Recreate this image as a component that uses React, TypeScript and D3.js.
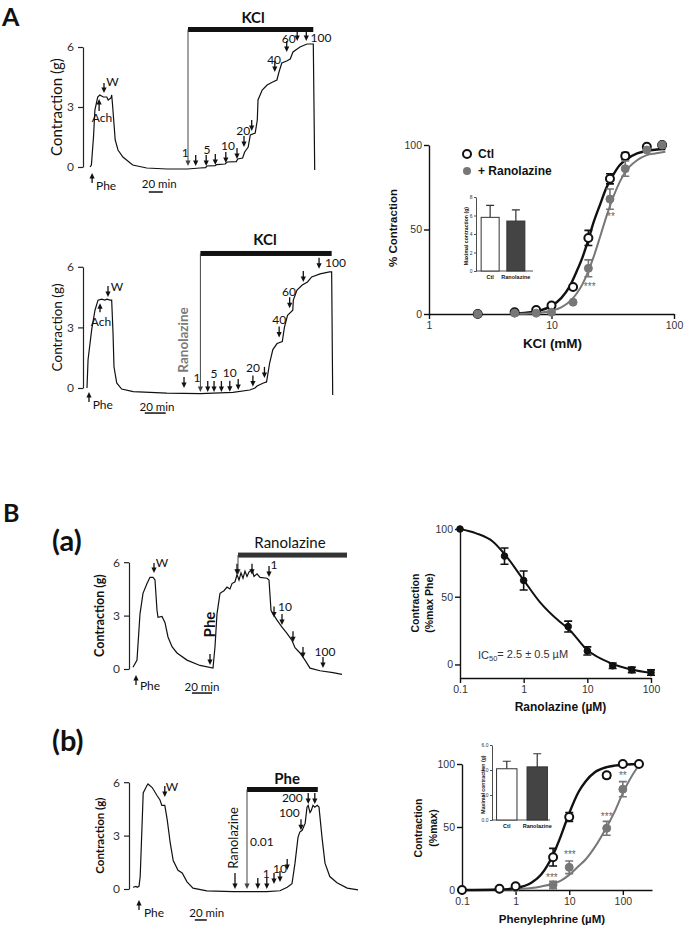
import React, { useEffect, useRef } from "react";
import * as d3 from "d3";

type P = [number, number];

// ---------------- isometric tension traces: [time (min), tension (g)] ----------------
const kclCtlTrace: P[] = [
  [0, 0], [2, 0.1], [5, 1.5], [7, 2.85], [11, 3.5], [14, 3.6], [19, 3.5], [24, 3.5], [26, 3.35], [30, 3.45],
  [31, 3.6], [32, 3.2], [36, 1.35], [40, 0.85], [47, 0.5], [61, 0.1], [81, -0.05], [110, -0.1], [139, -0.1],
  [157, -0.05], [165, -0.03], [167, 0.05], [179, 0.07], [181, 0.12], [193, 0.15], [196, 0.25], [209, 0.27],
  [211, 0.4], [218, 0.45], [221, 0.75], [226, 1.0], [229, 1.6], [236, 1.7], [239, 2.35], [240, 3.35],
  [246, 3.85], [253, 4.1], [261, 4.25], [267, 4.35], [270, 4.75], [274, 5.2], [281, 5.3], [286, 5.4],
  [290, 5.75], [300, 6.0], [310, 6.15], [319, 6.15], [321, -0.15],
];
const kclRanTrace: P[] = [
  [0, 0], [1, 1.4], [4.5, 2.9], [7.6, 3.85], [10.5, 4.35], [14, 4.4], [17, 4.35], [19, 4.4], [22, 4.35],
  [23.5, 4.35], [24.8, 2.7], [25.7, 1.05], [28.3, 0.25], [33, -0.05], [44, -0.18], [76, -0.25], [108, -0.28],
  [139, -0.22], [155, -0.1], [160, 0], [162, 0.1], [168, 0.25], [171, 0.3], [174, 1.25], [177, 1.9],
  [181, 2.2], [186, 2.3], [188, 3.0], [191, 3.6], [196, 3.85], [196.5, 4.35], [200, 4.85], [205, 5.1],
  [210, 5.25], [214, 5.5], [222, 5.65], [231, 5.75], [233, 5.75], [234, -0.35],
];
const pheRanTrace: P[] = [
  [0, 0.1], [4, 0.5], [7, 3.1], [10, 4.25], [14, 4.8], [17, 5.15], [20, 5.15], [22, 5.0], [24, 3.3],
  [25, 2.9], [29, 2.95], [32, 2.6], [35, 1.8], [39, 1.25], [44, 0.9], [54, 0.5], [67, 0.2], [80, 0.05],
  [82, 1.25], [84, 3.1], [87, 4.25], [91, 4.4], [94, 4.6], [97, 4.5], [99, 4.8], [102, 4.9], [104, 5.3],
  [106, 5.0], [108, 5.4], [110, 5.1], [112, 5.5], [114, 5.2], [116, 5.45], [119, 5.6], [121, 5.2],
  [124, 5.35], [127, 5.15], [134, 5.1], [136, 5.0], [138, 3.3], [140, 3.1], [144, 2.75], [149, 2.35],
  [154, 2.0], [159, 1.6], [162, 1.2], [167, 0.9], [172, 0.5], [177, 0.05], [187, -0.1], [200, -0.2], [209, -0.3],
];
const pheCumTrace: P[] = [
  [0, 0.1], [5, 0.15], [7, 0.1], [10, 0.15], [12, 0.7], [15, 3.5], [17, 5.4], [23, 5.8], [25, 5.9],
  [32, 5.7], [40, 5.25], [45, 5.0], [48, 4.7], [53, 4.7], [57, 3.9], [62, 2.6], [67, 1.6], [75, 1.05],
  [82, 0.9], [90, 0.4], [100, 0.05], [123, -0.1], [167, -0.15], [223, -0.15], [245, -0.1], [257, 0.1],
  [265, 0.3], [270, 1.45], [275, 2.9], [278, 3.2], [282, 3.3], [287, 3.7], [290, 4.6], [292, 4.7],
  [295, 4.3], [297, 4.4], [300, 4.7], [303, 4.6], [307, 4.7], [310, 4.6], [315, 2.9], [320, 1.45],
  [328, 0.7], [340, 0.35], [357, 0.05], [375, -0.05],
];

// drug additions: [time (min), arrow tip (g)]
const kclCtlArrows: P[] = [[151, 0.05], [166, 0.05], [179, 0.1], [194, 0.2], [210, 0.4], [220, 1.0], [231, 1.8], [264, 4.75], [281, 5.75], [296, 6.3], [309, 6.3]];
const kclRanArrows: P[] = [[115, -0.2], [121, -0.2], [128, -0.2], [136, -0.18], [144, -0.1], [158, 0.07], [169, 0.5], [183, 2.5], [193, 3.95], [206, 5.25], [221, 5.9]];
const pheRanArrows: P[] = [[104, 5.3], [119, 5.3], [136, 5.17], [141, 2.9], [149, 2.47], [160, 1.5], [170, 0.62], [190, 0.05]];
const pheCumArrows: P[] = [[208, 0], [223, 0], [235, 0.28], [245, 0.4], [257, 1.07], [280, 3.3], [292, 4.78], [303, 4.78]];

// ---------------- concentration-response data ----------------
const kclDoses = [2.5, 5, 7.5, 10, 15, 20, 30, 40, 60, 80];
const kclCtlPct = [0, 1, 2.4, 5, 16, 45, 80, 93.5, 99, 100];
const kclCtlErr = [0, 0, 0, 0, 0, 4.5, 3, 2, 0, 0];
const kclRanPct = [0, 0.5, 0.5, 1, 7, 27, 68, 86, 97, 100];
const kclRanErr = [0, 0, 0, 0, 0, 5, 6, 4.5, 0, 0];
const kclCurveX = [5, 6, 7, 8, 10, 12, 14, 16, 18, 20, 22, 25, 28, 32, 36, 40, 50, 60, 70, 85];
const kclCtlCurve = [0.3, 0.6, 1.2, 2, 4.8, 9.4, 16, 25, 34, 44, 54, 65, 74.5, 82.5, 88, 91, 95, 96.5, 97.2, 97.6];
const kclRanCurve = [0.1, 0.2, 0.4, 0.7, 1.9, 3.9, 7.2, 12, 18, 25.5, 33.5, 46, 57.5, 69.5, 78, 84, 91, 94, 95, 96];

const ranDoses = [0.1, 0.5, 1, 5, 10, 25, 50, 100];
const ranPct = [100, 80, 62, 28, 10, -1, -4, -6];
const ranErr = [0, 6, 7, 4, 3, 2, 2, 2];
const ranCurveX = [0.1, 0.18, 0.33, 0.49, 1, 1.8, 3.7, 5, 10, 24, 49, 100];
const ranCurveY = [100, 96.8, 90.6, 82, 62.3, 46, 31.5, 26.6, 10.6, 0.7, -3.7, -6.2];

const pheDoses = [0.1, 0.5, 1, 5, 10, 50, 100, 200];
const pheCtlPct = [0, 1, 3, 26, 58, 91, 100, 100];
const pheCtlErr = [0, 0, 0, 7, 3.5, 2, 0, 0];
const pheRanPct = [0, 0.5, 2, 4, 18, 49, 80, 100];
const pheRanErr = [0, 0, 0, 3, 5, 5.5, 6, 0];
const pheCurveX = [0.1, 0.5, 1, 2, 3, 5, 7, 10, 15, 20, 30, 50, 70, 100, 150, 200];
const pheCtlCurve = [0, 0.4, 1.5, 5.9, 12.3, 28, 43, 61, 78, 86, 93.4, 97.5, 98.7, 99.4, 99.8, 99.9];
const pheRanCurve = [0, 0.2, 0.6, 1.5, 2.8, 5, 7.5, 12, 19, 24, 34, 50, 62, 77, 91, 99];

const insetCats = ["Ctl", "Ranolazine"];
const kclMaxMean = [5.8, 5.4];
const kclMaxSem = [1.3, 1.2];
const pheMaxMean = [4.1, 4.25];
const pheMaxSem = [0.6, 1.05];

const FT = "Lato, 'Open Sans', sans-serif";
const FC = "'Liberation Sans', Arial, sans-serif";

function txt(g: any, x: number, y: number, s: string, o: any = {}) {
  const t = g.append("text")
    .attr("x", x).attr("y", y).attr("dy", "0.35em")
    .attr("text-anchor", o.anchor || "middle")
    .attr("font-family", o.font || FT)
    .attr("font-size", o.size || 12)
    .attr("font-weight", o.weight || "normal")
    .attr("fill", o.color || "#111")
    .text(s);
  if (o.rotate) t.attr("transform", `rotate(-90,${x},${y})`);
  return t;
}

// dir 1 = pointing down, -1 = pointing up
function arrow(g: any, x: number, tip: number, len: number, dir = 1, color = "#111", w = 1.3) {
  g.append("line").attr("x1", x).attr("x2", x)
    .attr("y1", tip - dir * len).attr("y2", tip - dir * 4)
    .attr("stroke", color).attr("stroke-width", w);
  g.append("path")
    .attr("d", `M${x - 2.6},${tip - dir * 5.5}L${x + 2.6},${tip - dir * 5.5}L${x},${tip}Z`)
    .attr("fill", color);
}

function drawTrace(root: any, c: any) {
  const g = root.append("g");
  const tEnd = d3.max(c.data, (d: P) => d[0]) as number;
  const x = d3.scaleLinear().domain([0, tEnd]).range([c.left, c.left + tEnd * c.pxPerMin]);
  const y = d3.scaleLinear().domain([0, 6]).range([c.zero, c.zero - 6 * c.pxPerG]);

  const ax = g.append("g").attr("transform", `translate(${c.axisX},0)`)
    .call(d3.axisLeft(y).tickValues([0, 3, 6]).tickFormat(d3.format("d")).tickSize(5).tickSizeOuter(0).tickPadding(4));
  ax.selectAll("path,line").attr("stroke", "#222").attr("stroke-width", 1.2);
  ax.selectAll("text").attr("font-family", FT).attr("font-size", 12).attr("fill", "#333");
  txt(g, c.yLabelX, y(3), "Contraction (g)", { rotate: true, size: c.yLabelSize, weight: c.yLabelWeight });

  g.append("path").datum(c.data)
    .attr("d", d3.line<P>().x((d) => x(d[0])).y((d) => y(d[1])))
    .attr("fill", "none").attr("stroke", "#111").attr("stroke-width", 1.2);

  // drug bar + first (long) arrow
  g.append("rect").attr("x", x(c.bar.t0)).attr("width", x(c.bar.t1) - x(c.bar.t0))
    .attr("y", y(c.bar.g) - 2.5).attr("height", 5).attr("fill", c.bar.color);
  arrow(g, x(c.bar.t0), y(c.bar.tip), y(c.bar.tip) - y(c.bar.g), 1, "#444", 1);

  c.arrows.forEach((d: P) => arrow(g, x(d[0]), y(d[1]), 11));
  c.extra.forEach((d: any) => arrow(g, x(d.t), y(d.g), d.len, d.dir));
  c.labels.forEach((d: any) => txt(g, x(d.t), y(d.g), d.text, d));

  // 20 min calibration
  g.append("line").attr("x1", x(c.scale.t)).attr("x2", x(c.scale.t + 20))
    .attr("y1", y(c.scale.g)).attr("y2", y(c.scale.g)).attr("stroke", "#111").attr("stroke-width", 1.5);
  txt(g, x(c.scale.textT), y(c.scale.textG), "20 min", { size: 11.5 });
}

function drawDose(root: any, c: any) {
  const g = root.append("g");
  const x = d3.scaleLog().domain(c.xDomain).range(c.xRange);
  const y = d3.scaleLinear().domain(c.yDomain).range(c.yRange);

  const xa = g.append("g").attr("transform", `translate(0,${y(c.yDomain[0])})`)
    .call(d3.axisBottom(x).tickValues(c.xTicks).tickFormat(d3.format("~g")).tickSize(5).tickSizeOuter(0).tickPadding(3));
  const ya = g.append("g").attr("transform", `translate(${c.xRange[0]},0)`)
    .call(d3.axisLeft(y).tickValues([0, 50, 100]).tickSize(5).tickSizeOuter(0).tickPadding(2));
  [xa, ya].forEach((a) => {
    a.selectAll("path,line").attr("stroke", "#111").attr("stroke-width", 1.4);
    a.selectAll("text").attr("font-family", FC).attr("font-size", 10.5).attr("fill", "#333");
  });

  const line = d3.line<P>().x((d) => x(d[0])).y((d) => y(d[1])).curve(d3.curveMonotoneX);
  c.series.forEach((s: any) => {
    g.append("path").datum(s.cx.map((v: number, i: number) => [v, s.cy[i]]))
      .attr("d", line).attr("fill", "none").attr("stroke", s.color).attr("stroke-width", s.lw);
  });
  c.series.forEach((s: any) => {
    s.x.forEach((v: number, i: number) => {
      const e = s.e[i];
      if (e > 0) {
        const cx = x(v);
        g.append("path")
          .attr("d", `M${cx},${y(s.y[i] - e)}V${y(s.y[i] + e)}M${cx - 4},${y(s.y[i] - e)}H${cx + 4}M${cx - 4},${y(s.y[i] + e)}H${cx + 4}`)
          .attr("stroke", s.color).attr("stroke-width", 1.6).attr("fill", "none");
      }
    });
    g.selectAll(null).data(s.x).join("circle")
      .attr("cx", (v: number) => x(v)).attr("cy", (_: number, i: number) => y(s.y[i]))
      .attr("r", s.r).attr("fill", s.open ? "#fff" : s.color)
      .attr("stroke", s.color).attr("stroke-width", s.open ? 2 : 1);
  });

  (c.stars || []).forEach((d: any) => txt(g, x(d[0]), y(d[1]), d[2], { font: FC, size: 10, color: "#666" }));
  c.yLabel.forEach((s: string, i: number) =>
    txt(g, c.yLabelX[i], c.yLabelY, s, { font: FC, size: c.yLabelSize, weight: "bold", rotate: true }));
  txt(g, (c.xRange[0] + c.xRange[1]) / 2 + c.xLabelShift, c.xLabelY, c.xLabel, { font: FC, size: c.xLabelSize, weight: "bold" });
}

function drawInset(root: any, c: any, means: number[], sems: number[]) {
  const g = root.append("g");
  const y = d3.scaleLinear().domain([0, c.max]).range([c.bottom, c.top]);
  const x = d3.scaleBand().domain(insetCats).range(c.band).paddingInner(c.padIn).paddingOuter(c.padOut);
  const ya = g.append("g").attr("transform", `translate(${c.band[0]},0)`)
    .call(d3.axisLeft(y).tickValues(c.ticks).tickSize(2).tickSizeOuter(0).tickPadding(1.5));
  ya.selectAll("path,line").attr("stroke", "#222").attr("stroke-width", 0.8);
  ya.selectAll("text").attr("font-family", FC).attr("font-size", 5).attr("fill", "#333");
  g.append("line").attr("x1", c.band[0]).attr("x2", c.xEnd).attr("y1", c.bottom).attr("y2", c.bottom)
    .attr("stroke", "#222").attr("stroke-width", 0.8);
  insetCats.forEach((k, i) => {
    const bx = x(k) as number;
    const cx = bx + x.bandwidth() / 2;
    g.append("path").attr("d", `M${cx},${y(means[i])}V${y(means[i] + sems[i])}M${cx - 4},${y(means[i] + sems[i])}H${cx + 4}`)
      .attr("stroke", "#333").attr("stroke-width", 1.2);
    g.append("rect").attr("x", bx).attr("width", x.bandwidth())
      .attr("y", y(means[i])).attr("height", c.bottom - y(means[i]))
      .attr("fill", i === 0 ? "#fff" : "#444").attr("stroke", "#333").attr("stroke-width", 1);
    txt(g, cx, c.bottom + 6, k, { font: FC, size: 5.5, weight: "bold" });
  });
  txt(g, c.yLabelX, (c.top + c.bottom) / 2 + 2, "Maximal contraction (g)", { font: FC, size: 5.2, weight: "bold", rotate: true });
}

export default function App() {
  const ref = useRef<SVGSVGElement>(null);

  useEffect(() => {
    const svg = d3.select(ref.current);
    svg.selectAll("*").remove();

    // panel letters
    txt(svg, 2, 17, "A", { anchor: "start", size: 25, weight: "bold" });
    txt(svg, 3, 513, "B", { anchor: "start", size: 25, weight: "bold" });
    txt(svg, 52, 541, "(a)", { anchor: "start", size: 29, weight: "bold" });
    txt(svg, 52, 741, "(b)", { anchor: "start", size: 29, weight: "bold" });

    // A, control KCl
    drawTrace(svg, {
      data: kclCtlTrace, left: 90, pxPerMin: 0.7, zero: 167, pxPerG: 20, axisX: 83,
      yLabelX: 57, yLabelSize: 15,
      bar: { t0: 140, t1: 319, g: 6.875, tip: 0.05, color: "#111" },
      arrows: kclCtlArrows,
      extra: [{ t: 20, g: 3.7, len: 10, dir: 1 }, { t: 13, g: 3.4, len: 12, dir: -1 }, { t: 3, g: -0.3, len: 10, dir: -1 }],
      labels: [
        { t: 136, g: 0.7, text: "1" }, { t: 167, g: 0.85, text: "5" }, { t: 197, g: 1.05, text: "10" },
        { t: 219, g: 1.8, text: "20" }, { t: 263, g: 5.35, text: "40" }, { t: 284, g: 6.4, text: "60" },
        { t: 330, g: 6.45, text: "100" }, { t: 32, g: 4.25, text: "W" }, { t: 17, g: 2.45, text: "Ach" },
        { t: 23, g: -0.95, text: "Phe" }, { t: 233, g: 7.45, text: "KCl", size: 15, weight: "bold" },
      ],
      scale: { t: 84, g: -1.25, textT: 99, textG: -0.85 },
    });

    // A, KCl after ranolazine
    drawTrace(svg, {
      data: kclRanTrace, left: 87, pxPerMin: 1.05, zero: 388, pxPerG: 20.2, axisX: 83,
      yLabelX: 57, yLabelSize: 13.5,
      bar: { t0: 108, t1: 233, g: 6.66, tip: -0.2, color: "#111" },
      arrows: kclRanArrows,
      extra: [
        { t: 20, g: 4.5, len: 11, dir: 1 }, { t: 12.4, g: 4.2, len: 9, dir: -1 },
        { t: 1.9, g: -0.2, len: 10, dir: -1 }, { t: 92.4, g: 0, len: 11, dir: 1 },
      ],
      labels: [
        { t: 104.8, g: 0.5, text: "1" }, { t: 121, g: 0.7, text: "5" }, { t: 136, g: 0.75, text: "10" },
        { t: 158, g: 1.0, text: "20" }, { t: 183, g: 3.4, text: "40" }, { t: 192.4, g: 4.75, text: "60" },
        { t: 226.7, g: 6.2, text: "100", anchor: "start" }, { t: 28.6, g: 5.0, text: "W" },
        { t: 13.3, g: 3.27, text: "Ach" }, { t: 15, g: -0.84, text: "Phe" },
        { t: 169.5, g: 7.33, text: "KCl", size: 15, weight: "bold" },
        { t: 91.4, g: 2.38, text: "Ranolazine", rotate: true, size: 13.5, weight: "bold", color: "#7a7a7a" },
      ],
      scale: { t: 55, g: -1.24, textT: 66.7, textG: -0.94 },
    });

    // B(a), ranolazine on Phe contraction
    drawTrace(svg, {
      data: pheRanTrace, left: 133, pxPerMin: 1.0, zero: 669, pxPerG: 17.8, axisX: 129,
      yLabelX: 100, yLabelSize: 12.5, yLabelWeight: "bold",
      bar: { t0: 105, t1: 214, g: 6.4, tip: 5.3, color: "#333" },
      arrows: pheRanArrows,
      extra: [{ t: 21, g: 5.4, len: 10, dir: 1 }, { t: 3, g: -0.34, len: 10, dir: -1 }, { t: 77, g: 0.22, len: 11, dir: 1 }],
      labels: [
        { t: 141, g: 5.85, text: "1" }, { t: 152, g: 3.48, text: "10" }, { t: 192, g: 0.95, text: "100" },
        { t: 29, g: 5.95, text: "W" }, { t: 17, g: -0.95, text: "Phe" },
        { t: 77, g: 2.5, text: "Phe", rotate: true, size: 15, weight: "bold" },
        { t: 157, g: 7.07, text: "Ranolazine", size: 15 },
      ],
      scale: { t: 59, g: -1.35, textT: 69, textG: -1.0 },
    });

    // B(b), cumulative Phe after ranolazine
    drawTrace(svg, {
      data: pheCumTrace, left: 133, pxPerMin: 0.6, zero: 889, pxPerG: 17.8, axisX: 129,
      yLabelX: 100, yLabelSize: 11.5, yLabelWeight: "bold",
      bar: { t0: 190, t1: 308, g: 5.59, tip: 0, color: "#111" },
      arrows: pheCumArrows,
      extra: [{ t: 53, g: 5.17, len: 11, dir: 1 }, { t: 10, g: -0.62, len: 10, dir: -1 }, { t: 170, g: 0, len: 16, dir: 1 }],
      labels: [
        { t: 195, g: 2.64, text: "0.01", anchor: "start" }, { t: 222, g: 0.84, text: "1" },
        { t: 245, g: 1.12, text: "10" }, { t: 278, g: 4.3, text: "100", anchor: "end" },
        { t: 283, g: 5.15, text: "200", anchor: "end" }, { t: 65, g: 5.75, text: "W" },
        { t: 35, g: -1.35, text: "Phe" }, { t: 257, g: 6.18, text: "Phe", size: 15, weight: "bold" },
        { t: 167, g: 2.87, text: "Ranolazine", rotate: true, size: 13 },
      ],
      scale: { t: 103, g: -1.74, textT: 123, textG: -1.35 },
    });

    // A, KCl concentration-response
    drawDose(svg, {
      xDomain: [1, 100], xRange: [429, 674], yDomain: [0, 100], yRange: [314, 145], xTicks: [1, 10, 100],
      series: [
        { x: kclDoses, y: kclCtlPct, e: kclCtlErr, cx: kclCurveX, cy: kclCtlCurve, color: "#111", open: true, r: 4, lw: 2.4 },
        { x: kclDoses, y: kclRanPct, e: kclRanErr, cx: kclCurveX, cy: kclRanCurve, color: "#777", open: false, r: 4, lw: 2 },
      ],
      stars: [[20.5, 16, "***"], [30.6, 57.4, "**"]],
      yLabel: ["% Contraction"], yLabelX: [393], yLabelY: 228, yLabelSize: 11.5,
      xLabel: "KCl (mM)", xLabelY: 343, xLabelSize: 13.5, xLabelShift: 1,
    });
    svg.append("circle").attr("cx", 467).attr("cy", 154).attr("r", 4).attr("fill", "#fff").attr("stroke", "#111").attr("stroke-width", 2);
    svg.append("circle").attr("cx", 467).attr("cy", 171).attr("r", 4).attr("fill", "#777");
    txt(svg, 478, 154, "Ctl", { anchor: "start", font: FC, size: 12, weight: "bold" });
    txt(svg, 478, 171, "+ Ranolazine", { anchor: "start", font: FC, size: 12, weight: "bold" });
    drawInset(svg, { max: 8, ticks: [0, 2, 4, 6, 8], top: 197, bottom: 271, band: [476, 530], padIn: 0.3, padOut: 0.2, xEnd: 533, yLabelX: 466 }, kclMaxMean, kclMaxSem);

    // B(a) inhibition curve
    drawDose(svg, {
      xDomain: [0.1, 100], xRange: [460, 651], yDomain: [-10, 100], yRange: [678, 529], xTicks: [0.1, 1, 10, 100],
      series: [{ x: ranDoses, y: ranPct, e: ranErr, cx: ranCurveX, cy: ranCurveY, color: "#111", open: false, r: 3.3, lw: 2 }],
      yLabel: ["Contraction", "(%max Phe)"], yLabelX: [415, 429], yLabelY: 603, yLabelSize: 10.5,
      xLabel: "Ranolazine (µM)", xLabelY: 707, xLabelSize: 12, xLabelShift: 5,
    });
    const ic = txt(svg, 478, 655, "IC", { anchor: "start", font: FC, size: 11, color: "#333" });
    ic.append("tspan").attr("font-size", 7.5).attr("dy", "0.25em").text("50");
    ic.append("tspan").attr("dy", "-0.25em").text("= 2.5 ± 0.5 µM");

    // B(b) phenylephrine concentration-response
    drawDose(svg, {
      xDomain: [0.1, 350], xRange: [462, 652], yDomain: [0, 100], yRange: [890, 764], xTicks: [0.1, 1, 10, 100],
      series: [
        { x: pheDoses, y: pheRanPct, e: pheRanErr, cx: pheCurveX, cy: pheRanCurve, color: "#777", open: false, r: 4, lw: 2 },
        { x: pheDoses, y: pheCtlPct, e: pheCtlErr, cx: pheCurveX, cy: pheCtlCurve, color: "#111", open: true, r: 4, lw: 2.4 },
      ],
      stars: [[4.75, 10, "***"], [10.3, 27.8, "***"], [50, 58.7, "***"], [100, 90.5, "**"]],
      yLabel: ["Contraction", "(%max)"], yLabelX: [418, 433], yLabelY: 828, yLabelSize: 10.5,
      xLabel: "Phenylephrine (µM)", xLabelY: 919, xLabelSize: 11.5, xLabelShift: -5,
    });
    drawInset(svg, { max: 6, ticks: [0, 2, 4, 6], top: 745, bottom: 820, band: [492, 552], padIn: 0.33, padOut: 0.15, xEnd: 550, yLabelX: 483 }, pheMaxMean, pheMaxSem);
  }, []);

  return (
    <svg ref={ref} width={685} height={927}
      style={{ position: "absolute", left: 0, top: 0, background: "#fff" }} />
  );
}
